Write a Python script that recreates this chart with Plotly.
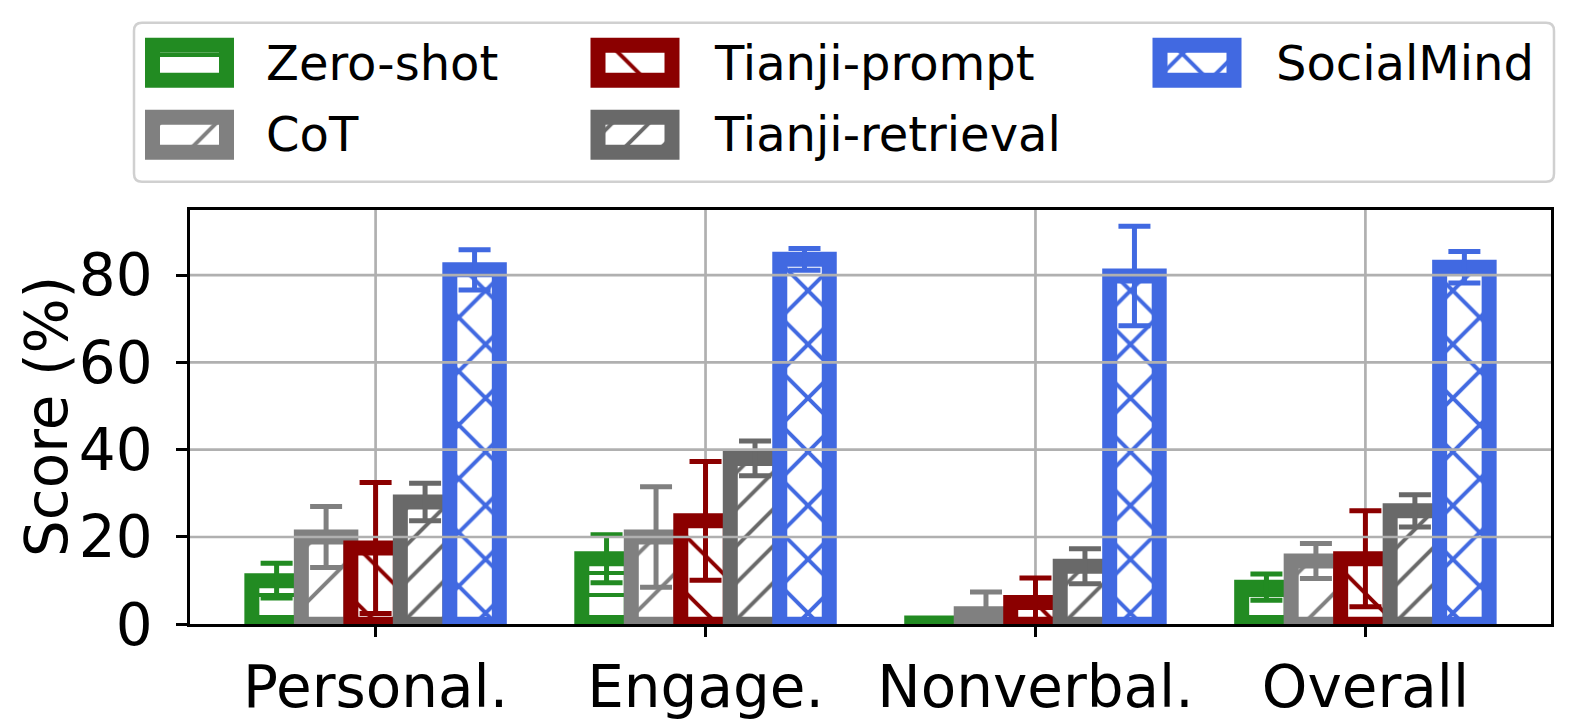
import plotly.graph_objects as go

# ---- data ----
categories = ["Personal.", "Engage.", "Nonverbal.", "Overall"]
methods = ["Zero-shot", "CoT", "Tianji-prompt", "Tianji-retrieval", "SocialMind"]

zero_shot = [10.0, 15.0, 0.3, 8.5]
zero_shot_err = [4.0, 5.5, 0.0, 3.0]
cot = [20.0, 20.0, 2.4, 14.5]
cot_err = [7.0, 11.5, 5.0, 4.0]
tianji_prompt = [17.5, 23.7, 5.0, 15.0]
tianji_prompt_err = [15.0, 13.6, 5.6, 11.0]
tianji_retrieval = [28.0, 38.0, 13.3, 26.0]
tianji_retrieval_err = [4.3, 4.0, 4.0, 3.7]
socialmind = [81.2, 83.6, 79.8, 81.8]
socialmind_err = [4.6, 2.5, 11.4, 3.6]

y_ticks = [0, 20, 40, 60, 80]

values = [zero_shot, cot, tianji_prompt, tianji_retrieval, socialmind]
errors = [zero_shot_err, cot_err, tianji_prompt_err, tianji_retrieval_err, socialmind_err]

# ---- style ----
W, H = 1577, 728
FONT = "DejaVu Sans"
colors = ["#228B22", "#808080", "#8B0000", "#696969", "#4169E1"]
hatches = [("-", 22, 0.18), ("/", 40, 0.1), ("\\", 40, 0.1), ("/", 26, 0.15), ("x", 38, 0.2)]
EDGE = 15

# plot area in pixels
left, right, top, bottom = 190, 1551, 210, 624.3


def bar_marker(col, shape, size, sol):
    return dict(
        color="white",
        line=dict(color=col, width=EDGE),
        pattern=dict(shape=shape, size=size, solidity=sol, fgcolor=col,
                     bgcolor="white", fgopacity=1),
    )


fig = go.Figure()

for name, vals, errs, col, (shape, size, sol) in zip(methods, values, errors, colors, hatches):
    fig.add_trace(
        go.Bar(
            x=categories,
            y=vals,
            name=name,
            showlegend=False,
            marker=bar_marker(col, shape, size, sol),
            error_y=dict(type="data", array=errs, color=col, thickness=5, width=16),
            xaxis="x",
            yaxis="y",
        )
    )

# ---- legend (drawn on a pixel-coordinate overlay axis) ----
col_x = [189.5, 635, 1197]
row_top = [45.3, 117.3]
text_x = [264, 712, 1274]
row_mid = [62.5, 134]
slots = [(0, 0), (0, 1), (1, 0), (1, 1), (2, 0)]

for name, col, (shape, size, sol), (c, r) in zip(methods, colors, hatches, slots):
    fig.add_trace(
        go.Bar(
            x=[col_x[c]],
            y=[35],
            base=[row_top[r]],
            width=[74],
            offset=[-37],
            showlegend=False,
            marker=bar_marker(col, shape, size, sol),
            xaxis="x2",
            yaxis="y2",
            hoverinfo="skip",
        )
    )
    fig.add_annotation(
        x=text_x[c], y=row_mid[r], xref="x2", yref="y2", text=name, showarrow=False,
        xanchor="left", yanchor="middle", font=dict(family=FONT, size=48, color="black"),
    )

# legend frame with rounded corners
bx0, by0, bx1, by1, rad = 134, 22.7, 1554, 181.7, 8
path = (
    f"M{bx0 + rad},{by0} L{bx1 - rad},{by0} Q{bx1},{by0} {bx1},{by0 + rad} "
    f"L{bx1},{by1 - rad} Q{bx1},{by1} {bx1 - rad},{by1} L{bx0 + rad},{by1} "
    f"Q{bx0},{by1} {bx0},{by1 - rad} L{bx0},{by0 + rad} Q{bx0},{by0} {bx0 + rad},{by0} Z"
)
fig.add_shape(type="path", path=path, xref="x2", yref="y2",
              line=dict(color="#d0d0d0", width=2.5), fillcolor="rgba(255,255,255,0.8)", layer="below")

# y axis title
fig.add_annotation(
    x=47, y=417, xref="x2", yref="y2", text="Score (%)", textangle=-90, showarrow=False,
    xanchor="center", yanchor="middle", font=dict(family=FONT, size=58, color="black"),
)

# horizontal gridlines cross the bars; vertical ones sit under the centre error bars
for v in y_ticks[1:]:
    fig.add_shape(type="line", xref="x domain", yref="y", x0=0, x1=1, y0=v, y1=v,
                  line=dict(color="#b0b0b0", width=2.7), layer="above")
for i in range(len(categories)):
    fig.add_shape(type="line", xref="x", yref="y domain", x0=i, x1=i, y0=0, y1=1,
                  line=dict(color="#b0b0b0", width=2.7), layer="below")

fig.update_layout(
    width=W,
    height=H,
    margin=dict(l=0, r=0, t=0, b=0),
    paper_bgcolor="white",
    plot_bgcolor="rgba(0,0,0,0)",
    barmode="group",
    bargap=0.25,
    bargroupgap=0,
    showlegend=False,
    font=dict(family=FONT, color="black"),
    xaxis=dict(
        domain=[left / W, right / W],
        anchor="y",
        range=[-0.5625, 3.5625],
        showgrid=False,
        showline=True, mirror=True, linecolor="black", linewidth=2.5,
        ticks="outside", ticklen=10, tickwidth=2.5, tickcolor="black",
        tickfont=dict(family=FONT, size=58, color="black"),
        layer="above traces",
        zeroline=False,
        automargin=False,
    ),
    yaxis=dict(
        domain=[1 - bottom / H, 1 - top / H],
        anchor="x",
        range=[0, 94.9],
        tickvals=y_ticks,
        showgrid=False,
        showline=True, mirror=True, linecolor="black", linewidth=2.5,
        ticks="outside", ticklen=11, tickwidth=2.5, tickcolor="black",
        tickfont=dict(family=FONT, size=58, color="black"),
        ticklabelstandoff=12,
        layer="above traces",
        zeroline=False,
        automargin=False,
    ),
    xaxis2=dict(domain=[0, 1], range=[0, W], anchor="y2", visible=False, fixedrange=True),
    yaxis2=dict(domain=[0, 1], range=[H, 0], anchor="x2", visible=False, fixedrange=True),
)

fig.write_html("out.html", config={"displayModeBar": False},
               post_script="document.body.style.margin='0';")
